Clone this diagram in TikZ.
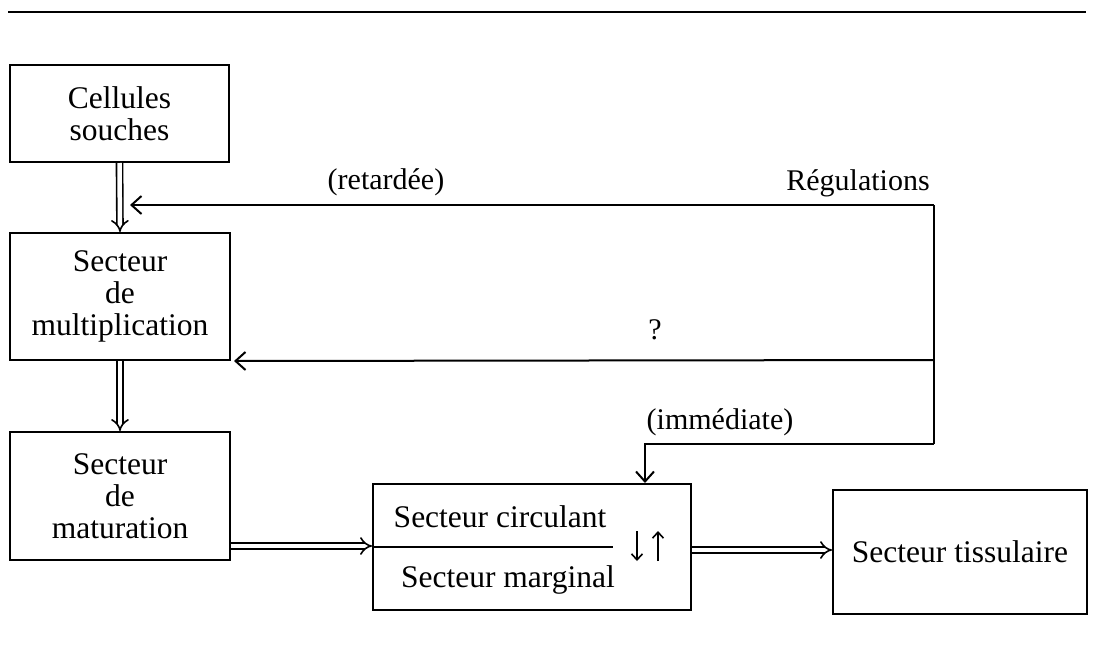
\documentclass[tikz,border=0pt]{standalone}
\usepackage{fontspec}
\setmainfont{Liberation Serif}
\usetikzlibrary{arrows.meta}
\tikzset{
  box/.style={draw, line width=2pt, inner sep=0pt, align=center,
    font=\fontsize{31.5}{32}\selectfont},
  lbl/.style={inner sep=0pt, font=\fontsize{30}{32}\selectfont},
  dbl/.style={line width=1.6pt, double, double distance=4.5pt,
    -{Implies[length=7pt]}},
  arr/.style={line width=2pt, -{Straight Barb[length=10pt,width=18pt]}},
  ln/.style={line width=2pt},
  sarr/.style={line width=1.6pt, -{Straight Barb[length=6pt,width=11pt]}}
}
\begin{document}
\begin{tikzpicture}[x=1pt,y=-1pt]
\useasboundingbox (0,0) rectangle (1096,665);
% top rule
\coordinate (ra) at (8,12);
\coordinate (rb) at (1086,12);
\draw[line width=2.4pt] (ra) -- (rb);
% boxes
\node[box, minimum width=219pt, minimum height=97pt] (b1) at (119.5,113.5) {Cellules\\souches};
\node[box, minimum width=220pt, minimum height=127pt] (b2) at (120,296.5) {Secteur\\de\\multiplication};
\node[box, minimum width=220pt, minimum height=128pt] (b3) at (120,496) {Secteur\\de\\maturation};
\node[box, minimum width=318pt, minimum height=126pt] (b4) at (532,547) {};
\node[box, minimum width=254pt, minimum height=124pt] (b5) at (960,552) {Secteur tissulaire};
% inside b4
\coordinate (dv) at (613,547);
\draw[ln] (b4.west |- dv) -- (dv);
\node[lbl, font=\fontsize{31.5}{32}\selectfont] (circ) at (500,517) {Secteur circulant};
\node[lbl, font=\fontsize{31.5}{32}\selectfont] (marg) at (508,580) {Secteur marginal};
\coordinate (d1) at (637,531);
\coordinate (d2) at (637,561);
\coordinate (u1) at (658,561);
\coordinate (u2) at (658,531);
\draw[sarr] (d1) -- (d2);
\draw[sarr] (u1) -- (u2);
% main flow
\draw[dbl] (b1.south) -- (b2.north);
\draw[dbl] (b2.south) -- (b3.north);
\coordinate (m) at (0,546);
\draw[dbl] (b3.east |- m) -- (b4.west |- m);
\coordinate (n) at (0,550);
\draw[dbl] (b4.east |- n) -- (b5.west |- n);
% regulations
\coordinate (R1) at (934,205);
\coordinate (R2) at (934,360);
\coordinate (R3) at (934,444);
\coordinate (t1) at (130,205);
\coordinate (k) at (645,444);
\draw[ln] (R1) -- (R3);
\draw[arr] (R1) -- (t1);
\draw[arr] (R2) -- ([xshift=3pt]b2.south east);
\draw[arr] (R3) -- (k) -- (k |- b4.north);
% labels
\node[lbl] (lret) at (386,182) {(retardée)};
\node[lbl] (lreg) at (858,183) {Régulations};
\node[lbl] (lq) at (655,330) {?};
\node[lbl] (limm) at (720,422) {(immédiate)};
\end{tikzpicture}
\end{document}
